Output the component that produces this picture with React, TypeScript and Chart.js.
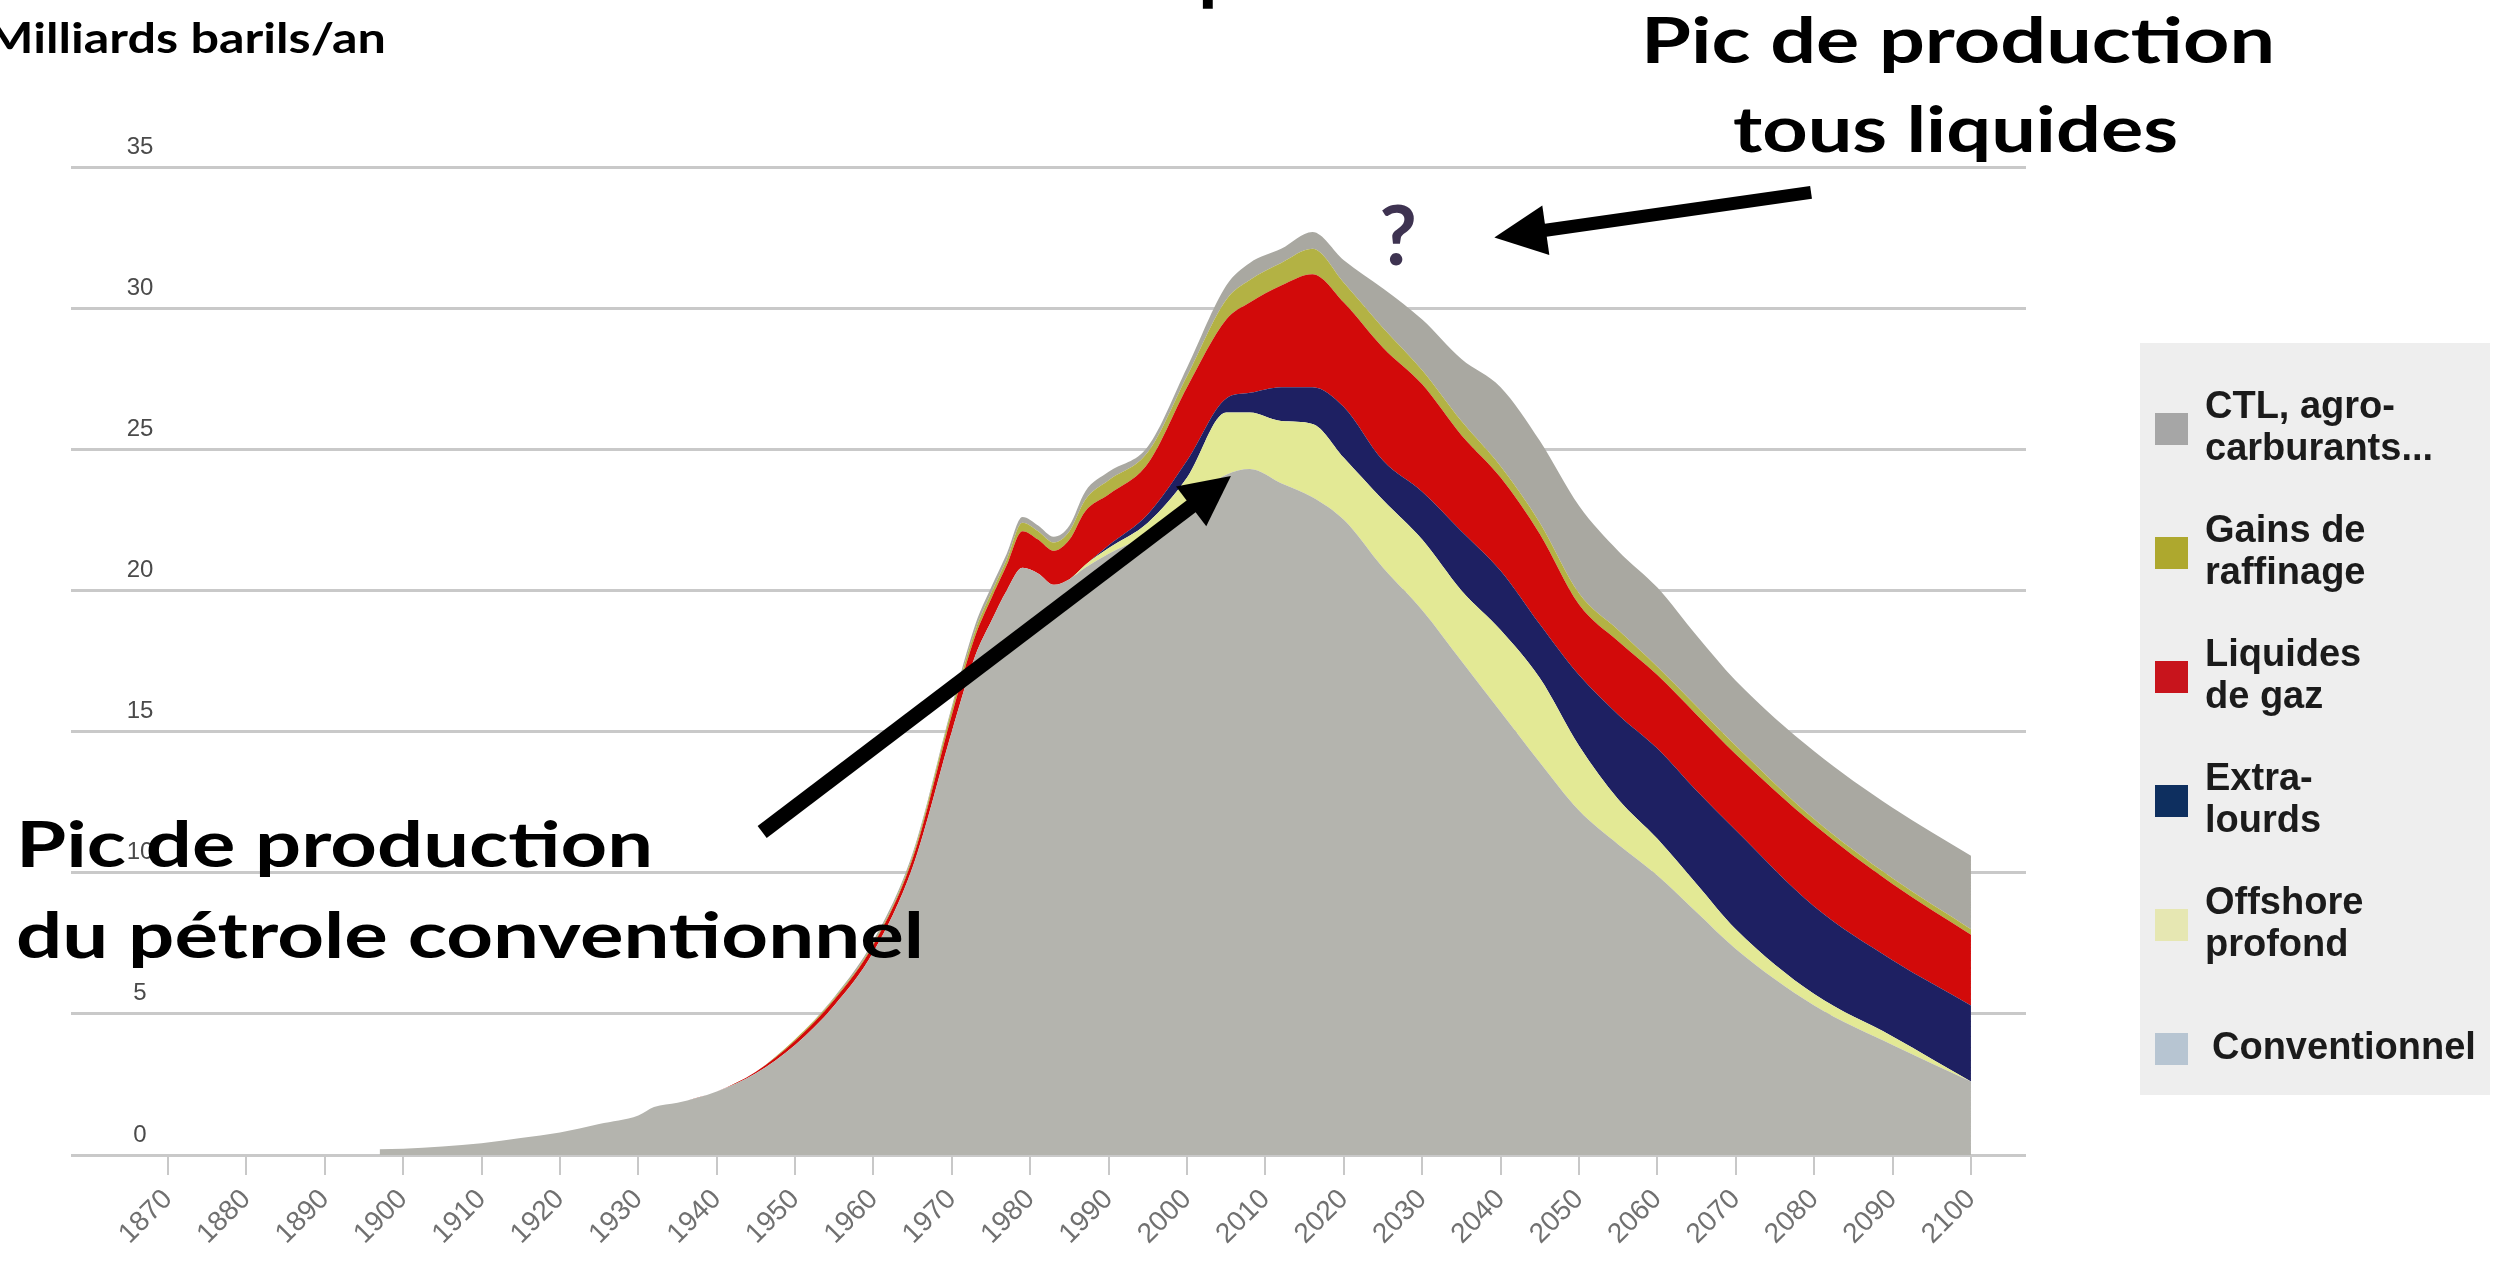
import React, { useEffect, useRef } from "react";
import { Chart, registerables } from "chart.js";

Chart.register(...registerables);

// ---- Data (Milliards de barils / an) ----
const years = [1897, 1900, 1905, 1910, 1915, 1920, 1925, 1930, 1932, 1935, 1940, 1945, 1950, 1955, 1960, 1965, 1970, 1973, 1975, 1977, 1979, 1981, 1983, 1985, 1987, 1990, 1995, 2000, 2005, 2008, 2012, 2016, 2020, 2025, 2030, 2035, 2040, 2045, 2050, 2055, 2060, 2065, 2070, 2080, 2090, 2100];

const conventionnel = [0.2, 0.22, 0.3, 0.42, 0.6, 0.8, 1.1, 1.4, 1.7, 1.85, 2.25, 2.9, 3.9, 5.3, 7.2, 10.2, 15.0, 17.7, 18.9, 20.0, 20.8, 20.6, 20.2, 20.4, 20.8, 21.3, 22.0, 23.1, 24.1, 24.3, 23.8, 23.3, 22.5, 20.8, 19.3, 17.5, 15.7, 13.9, 12.2, 11.0, 9.9, 8.6, 7.3, 5.3, 3.9, 2.6];
const offshoreProfond = [0, 0, 0, 0, 0, 0, 0, 0, 0, 0, 0, 0, 0, 0, 0, 0, 0, 0, 0, 0, 0, 0, 0, 0, 0.1, 0.2, 0.4, 0.9, 2.2, 2.0, 2.2, 2.6, 2.2, 2.4, 2.5, 2.5, 2.9, 3.0, 2.3, 1.6, 1.3, 1.0, 0.7, 0.4, 0.3, 0];
const extraLourds = [0, 0, 0, 0, 0, 0, 0, 0, 0, 0, 0, 0, 0, 0, 0, 0, 0, 0, 0, 0, 0, 0, 0, 0, 0, 0.1, 0.3, 0.6, 0.5, 0.7, 1.2, 1.3, 1.8, 1.4, 1.7, 2.1, 2.1, 1.9, 2.5, 3.0, 3.2, 3.3, 3.5, 3.1, 2.7, 2.7];
const liquidesGaz = [0, 0, 0, 0, 0, 0, 0, 0, 0, 0, 0, 0.05, 0.15, 0.2, 0.25, 0.3, 0.6, 0.7, 0.8, 0.9, 1.3, 1.2, 1.2, 1.4, 1.9, 1.8, 1.8, 2.6, 2.8, 3.2, 3.6, 4.0, 3.7, 4.0, 3.8, 3.4, 3.3, 3.2, 2.5, 2.6, 2.6, 2.7, 2.7, 2.9, 2.7, 2.5];
const gainsRaffinage = [0, 0, 0, 0, 0, 0, 0, 0, 0, 0, 0, 0, 0.05, 0.05, 0.05, 0.1, 0.2, 0.2, 0.2, 0.2, 0.3, 0.3, 0.3, 0.3, 0.4, 0.5, 0.4, 0.4, 0.7, 0.8, 0.8, 0.9, 0.7, 0.7, 0.5, 0.5, 0.4, 0.4, 0.4, 0.4, 0.3, 0.3, 0.3, 0.2, 0.2, 0.2];
const ctlAgro = [0, 0, 0, 0, 0, 0, 0, 0, 0, 0, 0, 0, 0, 0.05, 0.1, 0.1, 0.1, 0.2, 0.2, 0.2, 0.2, 0.2, 0.2, 0.2, 0.3, 0.3, 0.2, 0.3, 0.5, 0.6, 0.5, 0.6, 0.8, 1.4, 1.8, 2.2, 2.8, 2.9, 3.1, 2.8, 2.8, 2.5, 2.3, 2.4, 2.5, 2.6];

const seriesNames = ["Conventionnel", "Offshore profond", "Extra-lourds", "Liquides de gaz", "Gains de raffinage", "CTL, agro-carburants..."];
const seriesValues = [conventionnel, offshoreProfond, extraLourds, liquidesGaz, gainsRaffinage, ctlAgro];
const fillColors = ["#b4b4ae", "#e3e995", "#1e2062", "#d20a0a", "#b3b244", "#a9a8a1"];

const xTickYears = [1870, 1880, 1890, 1900, 1910, 1920, 1930, 1940, 1950, 1960, 1970, 1980, 1990, 2000, 2010, 2020, 2030, 2040, 2050, 2060, 2070, 2080, 2090, 2100];
const yTickValues = [0, 5, 10, 15, 20, 25, 30, 35];

const legendLines = [["CTL, agro-", "carburants..."], ["Gains de", "raffinage"], ["Liquides", "de gaz"], ["Extra-", "lourds"], ["Offshore", "profond"], ["Conventionnel"]];
const legendColors = ["#a6a6a6", "#aea82e", "#c8141c", "#0e2f5f", "#e6e7b2", "#b7c5d2"];

// arrows in data coordinates: [tailYear, tailValue, tipYear, tipValue]
const arrowTousLiquides = [2079.6, 34.1, 2039.2, 32.5];
const arrowConventionnel = [1945.8, 11.44, 2005.6, 24.05];

const ANN_FONT = "bold 64px Lato, 'DejaVu Sans', sans-serif";

function fitText(ctx: CanvasRenderingContext2D, text: string, x: number, y: number, width: number, font: string) {
  ctx.save();
  ctx.font = font;
  ctx.textAlign = "left";
  ctx.textBaseline = "alphabetic";
  const w = ctx.measureText(text).width;
  ctx.translate(x, y);
  ctx.scale(width / w, 1);
  ctx.fillText(text, 0, 0);
  ctx.restore();
}

function drawArrow(ctx: CanvasRenderingContext2D, x1: number, y1: number, x2: number, y2: number, lw: number, headLen: number, headW: number) {
  const a = Math.atan2(y2 - y1, x2 - x1);
  const c = Math.cos(a), s = Math.sin(a);
  const bx = x2 - headLen * c, by = y2 - headLen * s;
  ctx.save();
  ctx.strokeStyle = "#000";
  ctx.fillStyle = "#000";
  ctx.lineWidth = lw;
  ctx.lineCap = "butt";
  ctx.beginPath();
  ctx.moveTo(x1, y1);
  ctx.lineTo(bx + c * 2, by + s * 2);
  ctx.stroke();
  ctx.beginPath();
  ctx.moveTo(x2, y2);
  ctx.lineTo(bx - s * headW / 2, by + c * headW / 2);
  ctx.lineTo(bx + s * headW / 2, by - c * headW / 2);
  ctx.closePath();
  ctx.fill();
  ctx.restore();
}

const overlayPlugin = {
  id: "overlay",
  afterDatasetsDraw(chart: any) {
    const ctx: CanvasRenderingContext2D = chart.ctx;
    const ys = chart.scales.y;
    ctx.save();
    ctx.font = "24px 'Liberation Sans Narrow', 'Liberation Sans', sans-serif";
    ctx.fillStyle = "#4a4a4a";
    ctx.textAlign = "center";
    ctx.textBaseline = "middle";
    yTickValues.forEach((v) => {
      ctx.fillText(String(v), 140, ys.getPixelForValue(v) - 20);
    });
    ctx.restore();
  },
  afterDraw(chart: any) {
    const ctx: CanvasRenderingContext2D = chart.ctx;
    const xs = chart.scales.x;
    const ys = chart.scales.y;

    // legend
    ctx.save();
    ctx.fillStyle = "#eeeeee";
    ctx.fillRect(2140, 343, 350, 752);
    const mids = [429, 553, 677, 801, 925, 1049];
    ctx.font = "bold 38px 'Liberation Sans', Arial, sans-serif";
    ctx.textBaseline = "middle";
    ctx.textAlign = "left";
    legendLines.forEach((lines, i) => {
      const m = mids[i];
      ctx.fillStyle = legendColors[i];
      ctx.fillRect(2155, m - 16, 33, 32);
      ctx.fillStyle = "#1b1b1b";
      const tx = lines.length === 1 ? 2212 : 2205;
      if (lines.length === 1) {
        ctx.fillText(lines[0], tx, m);
      } else {
        ctx.fillText(lines[0], tx, m - 21);
        ctx.fillText(lines[1], tx, m + 21);
      }
    });
    ctx.restore();

    // annotations
    ctx.save();
    ctx.fillStyle = "#000";
    fitText(ctx, "Milliards barils/an", -14, 53, 400, "bold 42px Lato, 'DejaVu Sans', sans-serif");
    fitText(ctx, "Pic de production", 1641, 63, 634, ANN_FONT);
    fitText(ctx, "tous liquides", 1733, 152, 445, ANN_FONT);
    fitText(ctx, "Pic de production", 16, 867, 637, ANN_FONT);
    fitText(ctx, "du pétrole conventionnel", 16, 958, 908, ANN_FONT);
    ctx.font = "bold 80px Lato, sans-serif";
    ctx.textBaseline = "alphabetic";
    ctx.textAlign = "left";
    ctx.fillText("p", 1198, -5);
    ctx.fillStyle = "#3e3351";
    ctx.font = "bold 82px Lato, sans-serif";
    ctx.textAlign = "center";
    ctx.fillText("?", 1398, 265);
    ctx.restore();

    const a1 = arrowTousLiquides;
    drawArrow(ctx, xs.getPixelForValue(a1[0]), ys.getPixelForValue(a1[1]), xs.getPixelForValue(a1[2]), ys.getPixelForValue(a1[3]), 13, 52, 50);
    const a2 = arrowConventionnel;
    drawArrow(ctx, xs.getPixelForValue(a2[0]), ys.getPixelForValue(a2[1]), xs.getPixelForValue(a2[2]), ys.getPixelForValue(a2[3]), 15, 50, 50);
  },
};

export default function App() {
  const ref = useRef<HTMLCanvasElement>(null);
  useEffect(() => {
    document.body.style.margin = "0";
    const datasets = seriesValues.map((vals, i) => ({
      label: seriesNames[i],
      data: years.map((x, k) => ({ x, y: vals[k] })),
      backgroundColor: fillColors[i],
      borderColor: fillColors[i],
      borderWidth: 0,
      pointRadius: 0,
      fill: i === 0 ? "origin" : "-1",
      cubicInterpolationMode: "monotone" as const,
    }));
    const chart = new Chart(ref.current!, {
      type: "line",
      data: { datasets },
      plugins: [overlayPlugin],
      options: {
        responsive: false,
        animation: false,
        devicePixelRatio: 1,
        layout: { padding: { left: 71, right: 472, top: 167, bottom: 0 } },
        plugins: { legend: { display: false }, tooltip: { enabled: false } },
        scales: {
          x: {
            type: "linear",
            min: 1857.63,
            max: 2107.02,
            afterBuildTicks: (s: any) => {
              s.ticks = xTickYears.map((v) => ({ value: v }));
            },
            afterFit: (s: any) => {
              s.height = 106;
            },
            grid: { drawOnChartArea: false, drawTicks: true, tickLength: 20, color: "#c8c8c8", lineWidth: 2 },
            border: { display: false },
            ticks: {
              autoSkip: false,
              minRotation: 45,
              maxRotation: 45,
              padding: 8,
              color: "#707070",
              font: { family: "'Liberation Sans', sans-serif", size: 28 },
              callback: (v: any) => String(v),
            },
          },
          y: {
            stacked: true,
            min: 0,
            max: 35,
            afterBuildTicks: (s: any) => {
              s.ticks = yTickValues.map((v) => ({ value: v }));
            },
            afterFit: (s: any) => {
              s.width = 0;
            },
            grid: { color: "#c9c9c9", lineWidth: 3, drawTicks: false },
            border: { display: false },
            ticks: { display: false },
          },
        },
      },
    });
    return () => chart.destroy();
  }, []);
  return (
    <div style={{ position: "relative", width: 2498, height: 1261, background: "#fff", overflow: "hidden" }}>
      <canvas ref={ref} width={2498} height={1261} style={{ display: "block", width: 2498, height: 1261 }} />
    </div>
  );
}
